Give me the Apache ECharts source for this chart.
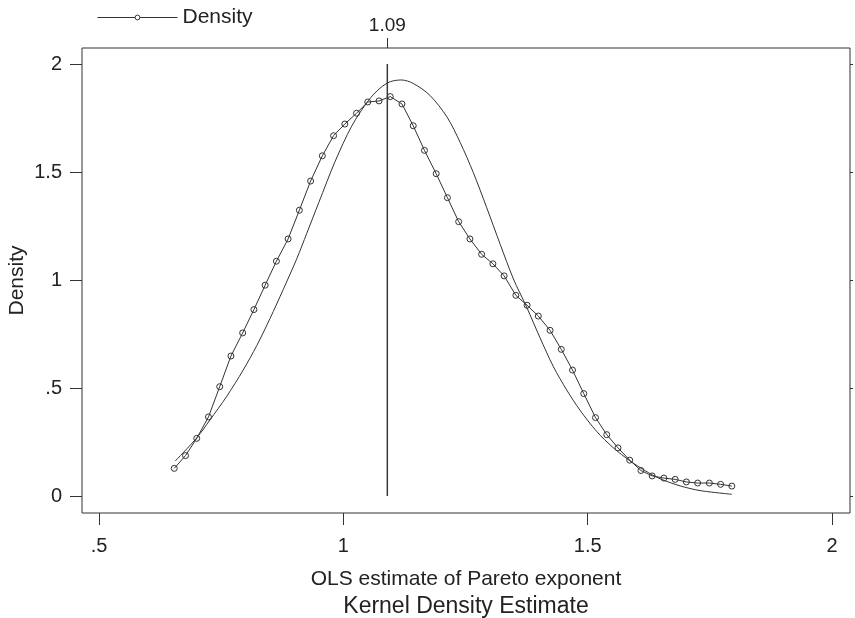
<!DOCTYPE html>
<html>
<head>
<meta charset="utf-8">
<title>Kernel Density Estimate</title>
<script src="https://cdn.jsdelivr.net/npm/echarts@6/dist/echarts.min.js"></script>
<style>
  html, body { margin: 0; padding: 0; background: #fff; }
  #chart { width: 855px; height: 618px; }
</style>
</head>
<body>
<div id="chart"></div>
<script>
// Kernel density of the OLS Pareto-exponent estimates (50 evaluation points)
const densX = [0.654, 0.677, 0.700, 0.724, 0.747, 0.770, 0.794, 0.817, 0.840, 0.863,
               0.887, 0.910, 0.933, 0.957, 0.980, 1.003, 1.027, 1.050, 1.073, 1.096,
               1.120, 1.143, 1.166, 1.190, 1.213, 1.236, 1.259, 1.283, 1.306, 1.329,
               1.353, 1.376, 1.399, 1.423, 1.446, 1.469, 1.492, 1.516, 1.539, 1.562,
               1.586, 1.609, 1.632, 1.656, 1.679, 1.702, 1.725, 1.749, 1.772, 1.795];
const densY = [0.128, 0.187, 0.267, 0.366, 0.506, 0.648, 0.755, 0.863, 0.976, 1.087,
               1.190, 1.323, 1.458, 1.575, 1.668, 1.722, 1.772, 1.824, 1.829, 1.849,
               1.815, 1.714, 1.600, 1.492, 1.381, 1.270, 1.190, 1.119, 1.075, 1.019,
               0.929, 0.883, 0.833, 0.767, 0.679, 0.583, 0.474, 0.363, 0.284, 0.223,
               0.166, 0.118, 0.093, 0.083, 0.077, 0.065, 0.060, 0.060, 0.054, 0.046];

// Reference normal density overlay
const normX = [0.656, 0.700, 0.727, 0.761, 0.795, 0.823, 0.850, 0.877, 0.905, 0.925,
               0.950, 0.983, 1.017, 1.051, 1.075, 1.096, 1.119, 1.143, 1.177, 1.212,
               1.239, 1.266, 1.293, 1.321, 1.348, 1.375, 1.402, 1.430, 1.457, 1.484,
               1.518, 1.552, 1.587, 1.617, 1.648, 1.689, 1.730, 1.795];
const normY = [0.162, 0.269, 0.352, 0.460, 0.583, 0.697, 0.822, 0.956, 1.100, 1.215,
               1.360, 1.548, 1.712, 1.830, 1.888, 1.918, 1.926, 1.910, 1.855, 1.755,
               1.637, 1.497, 1.337, 1.165, 1.005, 0.875, 0.735, 0.598, 0.491, 0.398,
               0.300, 0.224, 0.162, 0.118, 0.080, 0.047, 0.025, 0.008];

// Vertical marker at the mode
const refX = 1.09;
const refLabel = '1.09';
const refSpan = [0, 2];

// Axis ticks and their printed labels
const xTicks = [0.5, 1, 1.5, 2];
const xTickLabels = ['.5', '1', '1.5', '2'];
const yTicks = [0, 0.5, 1, 1.5, 2];
const yTickLabels = ['0', '.5', '1', '1.5', '2'];

const FONT = 'Liberation Sans';
const INK = '#222';
const LINE = '#333';

const zip = (xs, ys) => xs.map((x, i) => [x, ys[i]]);
const labelFor = (ticks, labels) => v => {
  const i = ticks.findIndex(t => Math.abs(t - v) < 1e-9);
  return i >= 0 ? labels[i] : '';
};

const X_MIN = 0.4652, X_MAX = 2.0368;
const Y_MIN = -0.0787, Y_MAX = 2.074;

const chart = echarts.init(document.getElementById('chart'), null, { renderer: 'canvas' });

chart.setOption({
  animation: false,
  backgroundColor: '#fff',
  textStyle: { fontFamily: FONT, color: INK },
  title: {
    text: 'Kernel Density Estimate',
    left: 466,
    top: 595,
    padding: 0,
    textAlign: 'center',
    textStyle: { fontFamily: FONT, fontSize: 23, fontWeight: 'normal', color: INK }
  },
  legend: {
    data: [{
      name: 'Density',
      itemStyle: { color: '#fff', borderColor: LINE, borderWidth: 1 },
      lineStyle: { color: LINE, width: 1 }
    }],
    left: 97,
    top: 7,
    padding: 0,
    itemWidth: 80,
    itemHeight: 6,
    textStyle: { fontFamily: FONT, fontSize: 21, color: INK }
  },
  grid: {
    left: 82, top: 48, width: 768, height: 465,
    show: true, borderColor: LINE, borderWidth: 1, backgroundColor: 'transparent',
    containLabel: false,
    outerBoundsMode: 'none'
  },
  xAxis: [
    {
      type: 'value', position: 'bottom', min: X_MIN, max: X_MAX,
      name: 'OLS estimate of Pareto exponent',
      nameLocation: 'middle', nameGap: 56,
      nameTextStyle: { fontFamily: FONT, fontSize: 21, color: INK },
      axisLine: { show: false, onZero: false },
      splitLine: { show: false },
      axisTick: { show: true, length: 12, customValues: xTicks, lineStyle: { color: LINE } },
      axisLabel: { show: true, margin: 23, fontSize: 20, color: INK, fontFamily: FONT,
                   customValues: xTicks, formatter: labelFor(xTicks, xTickLabels) }
    },
    {
      type: 'value', position: 'top', min: X_MIN, max: X_MAX,
      axisLine: { show: false, onZero: false },
      splitLine: { show: false },
      axisTick: { show: true, length: 10, customValues: [refX], lineStyle: { color: LINE } },
      axisLabel: { show: true, margin: 13, fontSize: 19, color: INK, fontFamily: FONT,
                   customValues: [refX], formatter: () => refLabel }
    }
  ],
  yAxis: [
    {
      type: 'value', position: 'left', min: Y_MIN, max: Y_MAX,
      name: 'Density', nameLocation: 'middle', nameGap: 54, nameRotate: 90,
      nameMoveOverlap: false,
      nameTextStyle: { fontFamily: FONT, fontSize: 21, color: INK },
      axisLine: { show: false, onZero: false },
      splitLine: { show: false },
      axisTick: { show: true, length: 12, customValues: yTicks, lineStyle: { color: LINE } },
      axisLabel: { show: true, margin: 20, fontSize: 20, color: INK, fontFamily: FONT,
                   customValues: yTicks, formatter: labelFor(yTicks, yTickLabels) }
    },
    {
      type: 'value', position: 'right', min: Y_MIN, max: Y_MAX,
      axisLine: { show: false, onZero: false },
      splitLine: { show: false },
      axisTick: { show: true, length: 3, customValues: yTicks, lineStyle: { color: LINE } },
      axisLabel: { show: false }
    }
  ],
  series: [
    {
      name: 'Density',
      type: 'line',
      xAxisIndex: 0, yAxisIndex: 0,
      data: zip(densX, densY),
      symbol: 'circle',
      symbolSize: 6,
      showSymbol: true,
      lineStyle: { color: LINE, width: 1 },
      itemStyle: { color: 'rgba(255,255,255,0)', borderColor: LINE, borderWidth: 1 },
      z: 3
    },
    {
      name: 'Normal',
      type: 'line',
      xAxisIndex: 0, yAxisIndex: 0,
      data: zip(normX, normY),
      smooth: 0.3,
      showSymbol: false,
      symbol: 'none',
      lineStyle: { color: LINE, width: 1 },
      z: 2
    },
    {
      name: 'Mode',
      type: 'line',
      xAxisIndex: 0, yAxisIndex: 0,
      data: refSpan.map(v => [refX, v]),
      showSymbol: false,
      symbol: 'none',
      lineStyle: { color: '#3a3a3a', width: 1.5 },
      z: 1
    }
  ]
});
</script>
</body>
</html>
